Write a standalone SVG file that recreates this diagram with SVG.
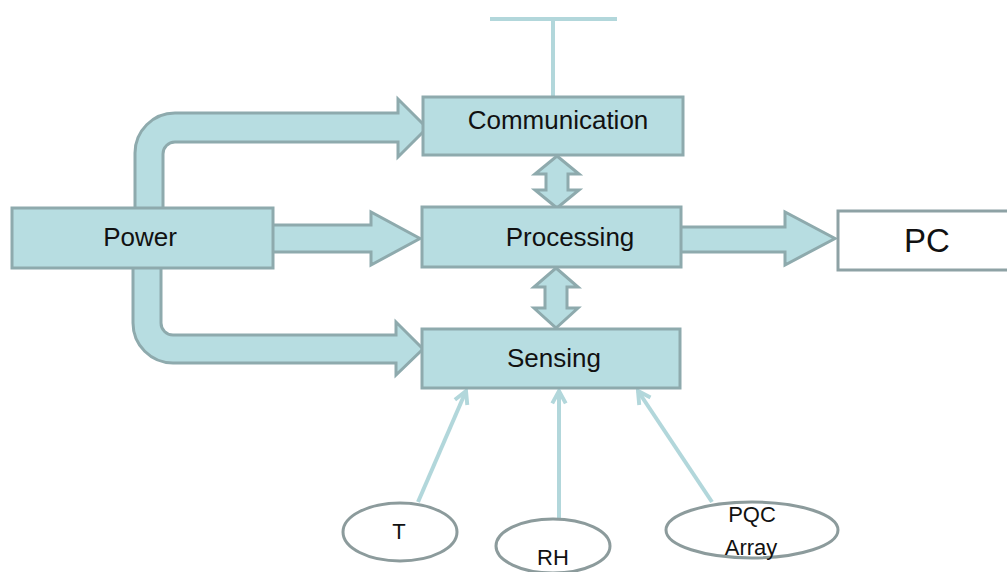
<svg xmlns="http://www.w3.org/2000/svg" width="1007" height="572" viewBox="0 0 1007 572">
<defs>
<style>
.blk{fill:#b7dde1;stroke:#8eaaad;stroke-width:3}
.arr{fill:#b7dde1;stroke:#8eaaad;stroke-width:3;stroke-linejoin:miter}
.thin{stroke:#b2d7db;stroke-width:4;fill:none}
.ell{fill:#ffffff;stroke:#8c9b9c;stroke-width:3}
.lbl{font-family:"Liberation Sans",Arial,sans-serif;font-size:26px;fill:#111;text-anchor:middle}
.sm{font-family:"Liberation Sans",Arial,sans-serif;font-size:22px;fill:#111;text-anchor:middle}
</style>
<marker id="open" viewBox="0 0 16 16" refX="14" refY="8" markerWidth="18" markerHeight="18" markerUnits="userSpaceOnUse" orient="auto">
<path d="M3,2 L14,8 L3,14" fill="none" stroke="#b2d7db" stroke-width="3.5"/>
</marker>
</defs>
<rect width="1007" height="572" fill="#ffffff"/>
<g id="connectors">
<path class="thin" d="M490,19 H617 M553,19 V97"/>
<path class="arr" d="M135,215 V153 A40,40 0 0 1 175,113 H398 V99 L427,128 L398,157 V142 H175 A12,12 0 0 0 163,154 V215 Z"/>
<path class="arr" d="M133,262 V323 A40,40 0 0 0 173,363 H396 V375 L423,349 L396,322 V335 H173 A12,12 0 0 1 161,323 V262 Z"/>
<path class="arr" d="M269,225 H371 V212 L420,238.5 L371,265 V252 H269 Z"/>
<path class="arr" d="M680,227 H785 V212 L835,238.5 L785,265 V252 H680 Z"/>
<path class="arr" d="M557,156 L579,174 L568,174 L568,190 L579,190 L557,208 L535,190 L546,190 L546,174 L535,174 Z"/>
<path class="arr" d="M556,268 L578,287 L567,287 L567,308 L578,308 L556,328 L534,308 L545,308 L545,287 L534,287 Z"/>
<line class="thin" x1="418" y1="502" x2="466" y2="391" marker-end="url(#open)"/>
<line class="thin" x1="559" y1="519" x2="559" y2="391" marker-end="url(#open)"/>
<line class="thin" x1="712" y1="502" x2="638" y2="391" marker-end="url(#open)"/>
</g>
<g id="power">
<rect class="blk" x="12" y="208" width="261" height="60"/>
<text class="lbl" x="140" y="246">Power</text>
</g>
<g id="communication">
<rect class="blk" x="423" y="97" width="260" height="58"/>
<text class="lbl" x="558" y="129">Communication</text>
</g>
<g id="processing">
<rect class="blk" x="422" y="207" width="259" height="60"/>
<text class="lbl" x="570" y="246">Processing</text>
</g>
<g id="sensing">
<rect class="blk" x="422" y="329" width="258" height="59"/>
<text class="lbl" x="554" y="367">Sensing</text>
</g>
<g id="pc">
<rect x="838" y="211" width="180" height="59" fill="#ffffff" stroke="#8ea2a5" stroke-width="3"/>
<text class="lbl" x="927" y="252" style="font-size:33px">PC</text>
</g>
<g id="t">
<ellipse class="ell" cx="400" cy="532" rx="57" ry="29"/>
<text class="sm" x="399" y="539">T</text>
</g>
<g id="rh">
<ellipse class="ell" cx="553" cy="546" rx="57" ry="27"/>
<text class="sm" x="553" y="565">RH</text>
</g>
<g id="pqc">
<ellipse class="ell" cx="752" cy="530" rx="86" ry="28"/>
<text class="sm" x="752" y="522">PQC</text>
<text class="sm" x="751" y="555">Array</text>
</g>
</svg>
